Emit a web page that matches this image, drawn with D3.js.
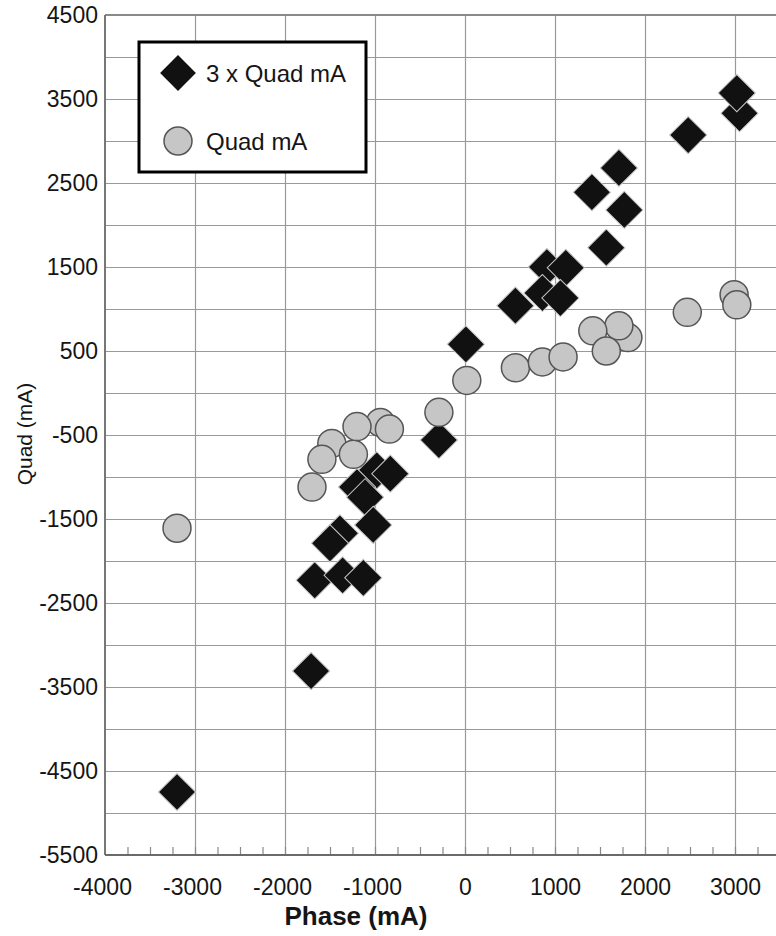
<!DOCTYPE html>
<html>
<head>
<meta charset="utf-8">
<script src="https://cdn.jsdelivr.net/npm/d3@7"></script>
<style>
  body { margin: 0; background: #fff; }
  svg { display: block; }
  text { font-family: "Liberation Sans", Arial, Helvetica, sans-serif; fill: #151515; }
</style>
</head>
<body>
<svg id="chart" width="776" height="936"></svg>
<script>
// Axis tick values
const xTicks = [-4000, -3000, -2000, -1000, 0, 1000, 2000, 3000];
const yTicks = [-5500, -4500, -3500, -2500, -1500, -500, 500, 1500, 2500, 3500, 4500];

// Series "3 x Quad mA" (phase, quad)
const tripleQuadPhase = [3050, 3020, 2480, 1710, 1410, 1770, 1570, 910, 1120, 860, 1060, 560, 10,
  -290, -980, -830, -1200, -1110, -1020, -1390, -1500, -1670, -1360, -1130, -1710, -3200];
const tripleQuadValue = [3330, 3570, 3070, 2680, 2390, 2180, 1730, 1500, 1490, 1190, 1130, 1040, 580,
  -560, -920, -960, -1120, -1240, -1570, -1670, -1790, -2230, -2170, -2200, -3310, -4750];

// Series "Quad mA" (phase, quad)
const quadPhase = [-3200, -1700, -1480, -1590, -1240, -940, -1200, -840, -290, 20, 560, 860, 1090,
  1810, 1710, 1420, 1570, 2470, 2990, 3020];
const quadValue = [-1610, -1120, -600, -790, -730, -350, -400, -430, -230, 150, 300, 370, 430,
  660, 800, 740, 500, 960, 1170, 1050];

const seriesNames = ["3 x Quad mA", "Quad mA"];

(function draw() {
  const svg = d3.select("#chart");
  const m = { left: 105, top: 15, bottom: 855, right: 825 };
  const plain = d => String(d);   // hyphen-minus labels

  const x = d3.scaleLinear().domain([-4000, 4000]).range([m.left, m.right]);
  const y = d3.scaleLinear().domain([-5500, 4500]).range([m.bottom, m.top]);

  const grid = svg.append("g");

  // horizontal grid every 500
  grid.append("g")
    .attr("transform", `translate(${m.left},0)`)
    .call(d3.axisLeft(y).tickValues(d3.range(-5000, 4501, 500)).tickSize(-(m.right - m.left)).tickFormat(""))
    .call(g => g.select(".domain").remove())
    .call(g => g.selectAll("line").attr("stroke", "#999").attr("stroke-width", 1.2));

  // vertical grid every 1000
  grid.append("g")
    .attr("transform", `translate(0,${m.bottom})`)
    .call(d3.axisBottom(x).tickValues(d3.range(-3000, 4001, 1000)).tickSize(-(m.bottom - m.top)).tickFormat(""))
    .call(g => g.select(".domain").remove())
    .call(g => g.selectAll("line").attr("stroke", "#999").attr("stroke-width", 1.2));

  // minor ticks on the phase axis every 250
  grid.append("g")
    .attr("transform", `translate(0,${m.bottom})`)
    .call(d3.axisBottom(x).tickValues(d3.range(-3750, 4000, 250)).tickSize(-8).tickFormat(""))
    .call(g => g.select(".domain").remove())
    .call(g => g.selectAll("line").attr("stroke", "#888").attr("stroke-width", 1.2));

  // frame lines
  svg.append("line").attr("x1", m.left).attr("x2", m.right).attr("y1", m.top).attr("y2", m.top)
    .attr("stroke", "#8a8a8a").attr("stroke-width", 2);
  svg.append("line").attr("x1", m.left).attr("x2", m.left).attr("y1", m.top).attr("y2", m.bottom)
    .attr("stroke", "#777").attr("stroke-width", 2);
  svg.append("line").attr("x1", m.left).attr("x2", m.right).attr("y1", m.bottom).attr("y2", m.bottom)
    .attr("stroke", "#6a6a6a").attr("stroke-width", 2.2);

  // tick labels
  svg.append("g")
    .attr("transform", `translate(0,${m.bottom})`)
    .call(d3.axisBottom(x).tickValues(xTicks).tickSize(0).tickPadding(24).tickFormat(plain))
    .call(g => g.select(".domain").remove())
    .call(g => g.selectAll("text").attr("font-size", 23).attr("fill", "#151515")
      .attr("dx", d => d < 0 ? -3 : 0)
      .attr("font-family", "Liberation Sans, Arial, sans-serif"));

  svg.append("g")
    .attr("transform", `translate(${m.left},0)`)
    .call(d3.axisLeft(y).tickValues(yTicks).tickSize(0).tickPadding(7).tickFormat(plain))
    .call(g => g.select(".domain").remove())
    .call(g => g.selectAll("text").attr("font-size", 23).attr("fill", "#151515").attr("dy", "0.34em")
      .attr("font-family", "Liberation Sans, Arial, sans-serif"));

  // axis titles
  svg.append("text")
    .attr("x", 356).attr("y", 925)
    .attr("text-anchor", "middle")
    .attr("font-size", 26).attr("font-weight", "bold").attr("fill", "#000")
    .text("Phase (mA)");

  svg.append("text")
    .attr("transform", "translate(32,434) rotate(-90)")
    .attr("text-anchor", "middle")
    .attr("font-size", 21)
    .text("Quad (mA)");

  // markers
  const diamond = d3.symbol().type(d3.symbolSquare).size(690);

  const tripleData = tripleQuadPhase.map((p, i) => ({ p, q: tripleQuadValue[i] }));
  const quadData = quadPhase.map((p, i) => ({ p, q: quadValue[i] }));

  svg.append("g").selectAll("path")
    .data(tripleData)
    .join("path")
    .attr("d", diamond)
    .attr("transform", d => `translate(${x(d.p)},${y(d.q)}) rotate(45)`)
    .attr("fill", "#111")
    .attr("stroke", "#c8c8c8")
    .attr("stroke-width", 1);

  svg.append("g").selectAll("circle")
    .data(quadData)
    .join("circle")
    .attr("cx", d => x(d.p))
    .attr("cy", d => y(d.q))
    .attr("r", 14)
    .attr("fill", "#c6c6c6")
    .attr("stroke", "#555")
    .attr("stroke-width", 1.5);

  // legend
  const lg = svg.append("g");
  lg.append("rect")
    .attr("x", 139).attr("y", 42).attr("width", 227).attr("height", 130)
    .attr("fill", "#fff").attr("stroke", "#000").attr("stroke-width", 3);
  lg.append("path")
    .attr("d", d3.symbol().type(d3.symbolSquare).size(640)())
    .attr("transform", "translate(178,73) rotate(45)")
    .attr("fill", "#111");
  lg.append("circle")
    .attr("cx", 178).attr("cy", 141).attr("r", 14)
    .attr("fill", "#c6c6c6").attr("stroke", "#555").attr("stroke-width", 1.5);
  lg.selectAll("text.lbl")
    .data(seriesNames)
    .join("text")
    .attr("class", "lbl")
    .attr("x", 206)
    .attr("y", (d, i) => i === 0 ? 82 : 150)
    .attr("font-size", 24)
    .text(d => d);
})();
</script>
</body>
</html>
